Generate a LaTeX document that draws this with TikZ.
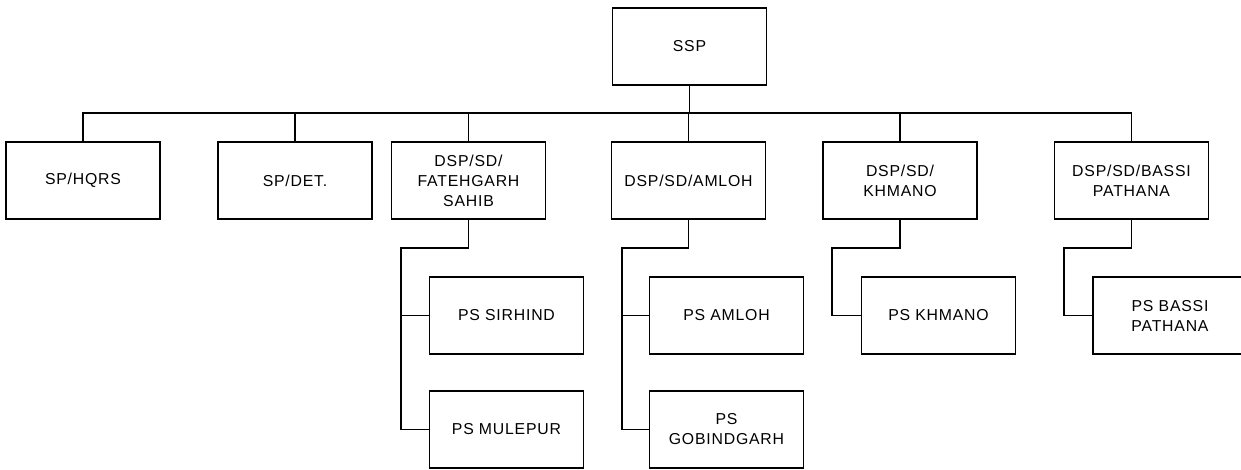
\documentclass[tikz,border=0pt]{standalone}
\usepackage{fontspec}
\setmainfont[LetterSpace=5]{Liberation Sans}
\usepackage{tikz}
\usetikzlibrary{positioning}

\tikzset{
  post/.style={draw, line width=0.7pt, minimum width=3.08cm, minimum height=1.54cm,
    inner sep=0pt, align=center, font=\fontsize{9}{11.4}\selectfont},
  link/.style={line width=0.7pt}
}

\begin{document}
\begin{tikzpicture}[x=0.02cm, y=-0.02cm]
\useasboundingbox (0,0) rectangle (1241,470);

% top level
\node[post] (ssp) at (689.5,46.5) {SSP};
\coordinate (bus) at (0,113);

% second row
\node[post] (hqrs)   at (83,180.5)    {SP/HQRS};
\node[post] (det)    at (295,180.5)   {SP/DET.};
\node[post] (fateh)  at (468.5,180.5) {DSP/SD/\\FATEHGARH\\SAHIB};
\node[post] (amloh)  at (688.5,180.5) {DSP/SD/AMLOH};
\node[post] (khmano) at (900,180.5)   {DSP/SD/\\KHMANO};
\node[post] (bassi)  at (1131.5,180.5) {DSP/SD/BASSI\\PATHANA};

% police stations
\node[post] (sirhind) at (506.5,315.5) {PS SIRHIND};
\node[post] (mulepur) at (506.5,429.5) {PS MULEPUR};
\node[post] (psamloh) at (726.5,315.5) {PS AMLOH};
\node[post] (gobind)  at (726.5,429.5) {PS\\GOBINDGARH};
\node[post] (pskhmano) at (938.5,315.5) {PS KHMANO};
\node[post] (psbassi) at (1170,315.5) {PS BASSI\\PATHANA};

\coordinate (kf) at (401,248);
\coordinate (ka) at (622,248);
\coordinate (kk) at (832,248);
\coordinate (kb) at (1064,248);

\foreach \c in {hqrs,det,fateh,amloh,khmano,bassi}
  \draw[link] (ssp.south) -- (ssp.south |- bus) -| (\c.north);

\draw[link] (fateh.south) |- (kf) |- (sirhind.west);
\draw[link] (kf) |- (mulepur.west);
\draw[link] (amloh.south) |- (ka) |- (psamloh.west);
\draw[link] (ka) |- (gobind.west);
\draw[link] (khmano.south) |- (kk) |- (pskhmano.west);
\draw[link] (bassi.south) |- (kb) |- (psbassi.west);

\end{tikzpicture}
\end{document}
